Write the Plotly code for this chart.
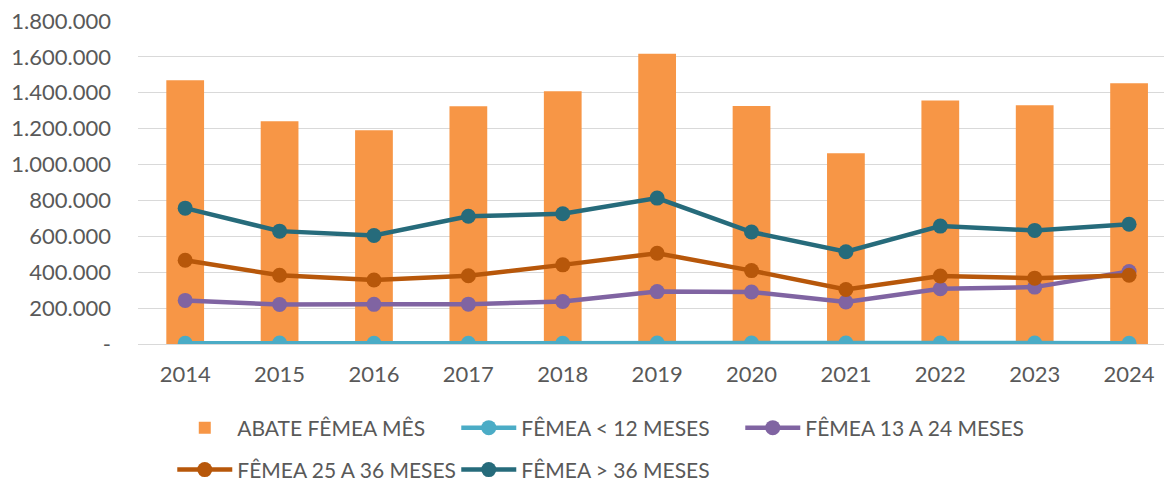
import plotly.graph_objects as go

anos = ["2014", "2015", "2016", "2017", "2018", "2019", "2020", "2021", "2022", "2023", "2024"]
abate_femea_mes = [1470000, 1241000, 1191000, 1325000, 1409000, 1617000, 1327000, 1063000, 1357000, 1330000, 1453000]
femea_12 = [4000, 5000, 4500, 3500, 4500, 5500, 5000, 5000, 5500, 5000, 4500]
femea_13_24 = [243000, 220000, 221000, 222000, 237000, 292000, 290000, 234000, 308000, 317000, 404000]
femea_25_36 = [467000, 383000, 357000, 380000, 441000, 506000, 409000, 304000, 379000, 367000, 383000]
femea_36 = [757000, 629000, 605000, 712000, 726000, 813000, 624000, 514000, 657000, 633000, 667000]

y_ticks = [0, 200000, 400000, 600000, 800000, 1000000, 1200000, 1400000, 1600000, 1800000]
y_tick_text = ["-", "200.000", "400.000", "600.000", "800.000", "1.000.000", "1.200.000", "1.400.000", "1.600.000", "1.800.000"]

FONT = "Lato"
GREY = "#595959"

fig = go.Figure()
fig.add_trace(go.Bar(x=anos, y=abate_femea_mes, name="ABATE FÊMEA MÊS",
                     marker=dict(color="#F79646", line=dict(width=0)), legend="legend"))

line_series = [
    ("FÊMEA < 12 MESES", femea_12, "#4BACC6", "legend"),
    ("FÊMEA 13 A 24 MESES", femea_13_24, "#8064A2", "legend"),
    ("FÊMEA 25 A 36 MESES", femea_25_36, "#B7570A", "legend2"),
    ("FÊMEA > 36 MESES", femea_36, "#266B7B", "legend2"),
]
for name, vals, col, lg in line_series:
    fig.add_trace(go.Scatter(x=anos, y=vals, name=name, mode="lines+markers",
                             line=dict(color=col, width=4.5),
                             marker=dict(color=col, size=15), legend=lg))

legend_common = dict(orientation="h", font=dict(family=FONT, size=21, color=GREY),
                     entrywidth=214, entrywidthmode="pixels", xanchor="left", yanchor="middle",
                     xref="container", yref="container",
                     bgcolor="rgba(0,0,0,0)", itemwidth=55, traceorder="normal")

fig.update_layout(
    width=1164, height=482,
    margin=dict(l=138, r=0, t=21, b=138, autoexpand=False),
    paper_bgcolor="white", plot_bgcolor="white",
    bargap=0.6,
    font=dict(family=FONT, size=21, color=GREY),
    legend=dict(x=0.148, y=0.112, **legend_common),
    legend2=dict(x=0.148, y=0.025, **legend_common),
    xaxis=dict(type="category", range=[-0.5, 10.37], showgrid=False, showline=False, automargin=False,
               ticks="", tickfont=dict(family=FONT, size=22, color=GREY), ticklabelstandoff=15),
    yaxis=dict(range=[0, 1800000], tickvals=y_ticks, ticktext=y_tick_text, automargin=False,
               showgrid=True, gridcolor="#D9D9D9", gridwidth=1.3, zeroline=True,
               zerolinecolor="#D9D9D9", zerolinewidth=1.3, showline=False,
               tickfont=dict(family=FONT, size=22, color=GREY), ticklabelstandoff=26),
)

fig.write_html("out.html", config={"displayModeBar": False},
               post_script="document.body.style.margin='0';")
